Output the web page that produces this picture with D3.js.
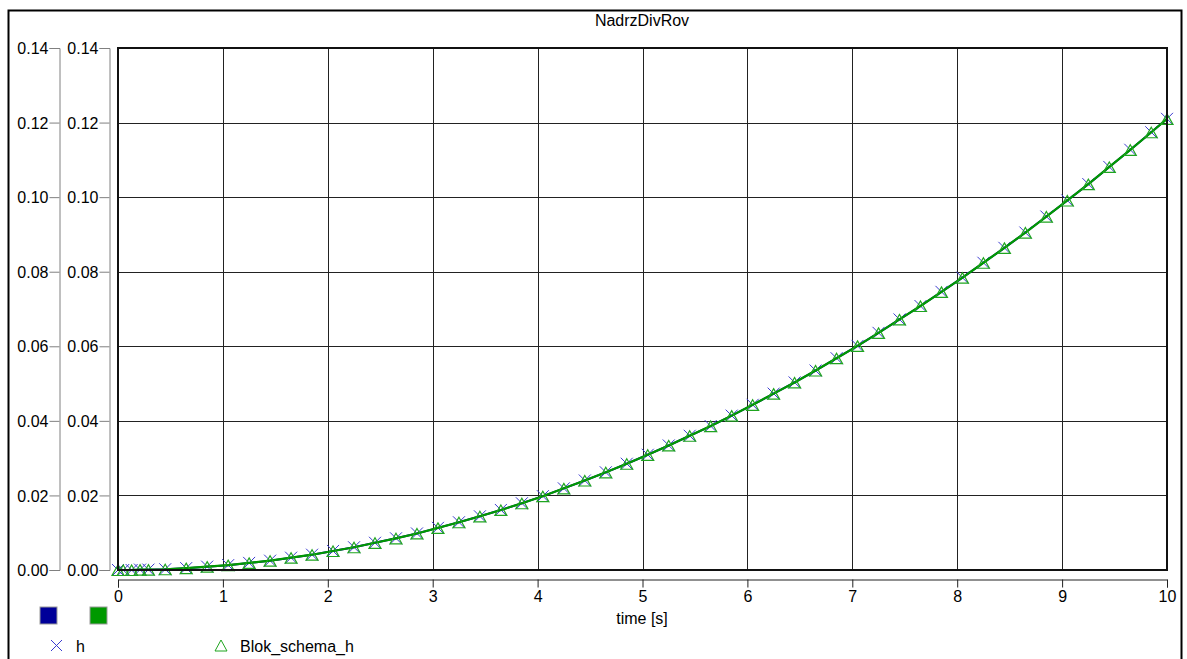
<!DOCTYPE html>
<html>
<head>
  <meta charset="utf-8">
  <title>NadrzDivRov</title>
  <script src="https://cdn.jsdelivr.net/npm/d3@7"></script>
  <style>
    html, body { margin: 0; background: #fff; }
    text { font-family: Arial, "Liberation Sans", sans-serif; font-size: 16px; fill: #000; }
  </style>
</head>
<body>
<script>
// sample times (s) of the markers
var times = [0, 0.05, 0.13, 0.21, 0.29, 0.45, 0.65, 0.85, 1.05, 1.25, 1.45, 1.65, 1.85,
  2.05, 2.25, 2.45, 2.65, 2.85, 3.05, 3.25, 3.45, 3.65, 3.85, 4.05, 4.25, 4.45, 4.65, 4.85,
  5.05, 5.25, 5.45, 5.65, 5.85, 6.05, 6.25, 6.45, 6.65, 6.85, 7.05, 7.25, 7.45, 7.65, 7.85,
  8.05, 8.25, 8.45, 8.65, 8.85, 9.05, 9.25, 9.45, 9.65, 9.85, 10];

var hValues = [0, 0.0000, 0.0000, 0.0001, 0.0001, 0.0002, 0.0005, 0.0009, 0.0013, 0.0019,
  0.0025, 0.0033, 0.0041, 0.0051, 0.0061, 0.0073, 0.0085, 0.0098, 0.0113, 0.0128, 0.0144,
  0.0161, 0.0179, 0.0198, 0.0219, 0.0240, 0.0262, 0.0285, 0.0309, 0.0334, 0.0360, 0.0386,
  0.0414, 0.0443, 0.0473, 0.0503, 0.0535, 0.0568, 0.0601, 0.0636, 0.0672, 0.0708, 0.0746,
  0.0784, 0.0824, 0.0864, 0.0905, 0.0948, 0.0991, 0.1035, 0.1081, 0.1127, 0.1174, 0.1210];

var blokValues = [0, 0.0000, 0.0000, 0.0001, 0.0001, 0.0002, 0.0005, 0.0009, 0.0013, 0.0019,
  0.0025, 0.0033, 0.0041, 0.0051, 0.0061, 0.0073, 0.0085, 0.0098, 0.0113, 0.0128, 0.0144,
  0.0161, 0.0179, 0.0198, 0.0219, 0.0240, 0.0262, 0.0285, 0.0309, 0.0334, 0.0360, 0.0386,
  0.0414, 0.0443, 0.0473, 0.0503, 0.0535, 0.0568, 0.0601, 0.0636, 0.0672, 0.0708, 0.0746,
  0.0784, 0.0824, 0.0864, 0.0905, 0.0948, 0.0991, 0.1035, 0.1081, 0.1127, 0.1174, 0.1210];

var xTicks = [0, 1, 2, 3, 4, 5, 6, 7, 8, 9, 10];
var yTicks = [0, 0.02, 0.04, 0.06, 0.08, 0.10, 0.12, 0.14];
var title = 'NadrzDivRov';
var xLabel = 'time [s]';
var seriesNames = ['h', 'Blok_schema_h'];
var seriesColors = ['#000099', '#009900'];

var width = 1187, height = 659;
var plotLeft = 118, plotRight = 1167, plotTop = 48, plotBottom = 570;

var svg = d3.select('body').append('svg')
  .attr('width', width)
  .attr('height', height);

// outer frame
svg.append('rect')
  .attr('x', 8.5).attr('y', 10.5)
  .attr('width', 1173).attr('height', 700)
  .attr('fill', 'none').attr('stroke', '#000').attr('stroke-width', 2);

svg.append('text')
  .attr('x', 642).attr('y', 26)
  .attr('text-anchor', 'middle')
  .text(title);

var x = d3.scaleLinear().domain([0, 10]).range([plotLeft, plotRight]);
var y = d3.scaleLinear().domain([0, 0.14]).range([plotBottom, plotTop]);

// grid
var grid = svg.append('g').attr('stroke', '#222').attr('stroke-width', 1);
grid.selectAll('line.v').data(xTicks).enter().append('line')
  .attr('x1', d => Math.round(x(d)) + 0.5).attr('x2', d => Math.round(x(d)) + 0.5)
  .attr('y1', plotTop).attr('y2', plotBottom);
grid.selectAll('line.h').data(yTicks).enter().append('line')
  .attr('y1', d => Math.round(y(d)) + 0.5).attr('y2', d => Math.round(y(d)) + 0.5)
  .attr('x1', plotLeft).attr('x2', plotRight);

// two y axes, both the same
[59, 109].forEach(function (ax) {
  var g = svg.append('g').attr('transform', 'translate(' + (ax + 0.5) + ',0)');
  g.call(d3.axisLeft(y).tickValues(yTicks).tickFormat(d3.format('.2f')).tickSizeOuter(0).tickSize(10));
  g.select('.domain').attr('stroke', '#808080');
  g.selectAll('.tick line').attr('stroke', '#808080');
  g.selectAll('.tick text').attr('x', -11).attr('dy', '0.35em')
    .style('font-size', '16px').style('font-family', 'Arial, "Liberation Sans", sans-serif');
});

// x axis below plot
var xg = svg.append('g').attr('transform', 'translate(0,579.5)');
xg.call(d3.axisBottom(x).tickValues(xTicks).tickFormat(d3.format('d')).tickSizeOuter(0).tickSize(8));
xg.select('.domain').attr('stroke', '#222');
xg.selectAll('.tick line').attr('stroke', '#222');
xg.selectAll('.tick text').attr('y', 11)
  .style('font-size', '16px').style('font-family', 'Arial, "Liberation Sans", sans-serif');

svg.append('text')
  .attr('x', 642).attr('y', 624)
  .attr('text-anchor', 'middle')
  .text(xLabel);

// series
var line = d3.line().x(d => x(d[0])).y(d => y(d[1]));
var hData = times.map((t, i) => [t, hValues[i]]);
var blokData = times.map((t, i) => [t, blokValues[i]]);

var plot = svg.append('g');
plot.append('path').datum(hData)
  .attr('d', line).attr('fill', 'none')
  .attr('stroke', seriesColors[0]).attr('stroke-width', 2);

plot.selectAll('path.cross').data(hData).enter().append('path')
  .attr('class', 'cross')
  .attr('transform', d => 'translate(' + x(d[0]) + ',' + y(d[1]) + ')')
  .attr('d', 'M-6,-6L6,6M-6,6L6,-6')
  .attr('stroke', '#3a3ad0').attr('stroke-width', 1).attr('fill', 'none');

plot.append('path').datum(blokData)
  .attr('d', line).attr('fill', 'none')
  .attr('stroke', seriesColors[1]).attr('stroke-width', 2.2);

plot.selectAll('path.tri').data(blokData).enter().append('path')
  .attr('class', 'tri')
  .attr('transform', d => 'translate(' + x(d[0]) + ',' + y(d[1]) + ')')
  .attr('d', 'M0,-5L6,5.5L-6,5.5Z')
  .attr('stroke', '#1fa51f').attr('stroke-width', 1.2).attr('fill', 'none');

// plot frame
svg.append('rect')
  .attr('x', plotLeft).attr('y', plotTop)
  .attr('width', plotRight - plotLeft).attr('height', plotBottom - plotTop)
  .attr('fill', 'none').attr('stroke', '#111').attr('stroke-width', 2);

// legend
var leg = svg.append('g');
leg.selectAll('rect').data(seriesColors).enter().append('rect')
  .attr('x', (d, i) => 40 + i * 50).attr('y', 607)
  .attr('width', 17).attr('height', 17)
  .attr('fill', d => d).attr('stroke', '#999').attr('stroke-width', 1);

leg.append('path')
  .attr('d', 'M51,640L62,651M51,651L62,640')
  .attr('stroke', '#3a3ad0').attr('stroke-width', 1).attr('fill', 'none');
leg.append('text').attr('x', 76).attr('y', 652).text(seriesNames[0]);

leg.append('path')
  .attr('d', 'M221,640L227,651L215,651Z')
  .attr('stroke', '#1fa51f').attr('stroke-width', 1).attr('fill', 'none');
leg.append('text').attr('x', 240).attr('y', 652).text(seriesNames[1]);
</script>
</body>
</html>
